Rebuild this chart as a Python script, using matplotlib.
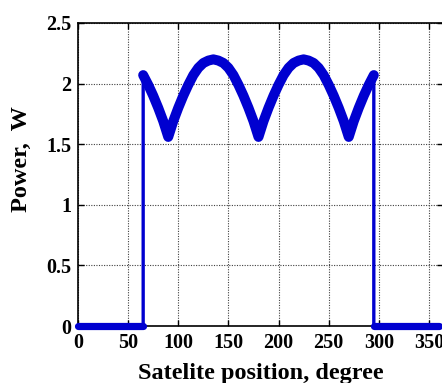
import matplotlib
matplotlib.use("Agg")
import matplotlib.pyplot as plt

# Satellite position (degrees) and generated power (W)
off_left_deg = [0, 5, 10, 15, 20, 25, 30, 35, 40, 45, 50, 55, 60, 65]
off_left_pw = [0.0] * len(off_left_deg)

on_deg = [65, 70, 75, 80, 85, 90, 95, 100, 105, 110, 115, 120, 125, 130, 135,
          140, 145, 150, 155, 160, 165, 170, 175, 180, 185, 190, 195, 200, 205,
          210, 215, 220, 225, 230, 235, 240, 245, 250, 255, 260, 265, 270, 275,
          280, 285, 290, 295]
on_pw = [2.07, 1.99, 1.90, 1.80, 1.69, 1.56, 1.69, 1.80, 1.90, 1.99, 2.07, 2.13,
         2.17, 2.19, 2.20, 2.19, 2.17, 2.13, 2.07, 1.99, 1.90, 1.80, 1.69, 1.56,
         1.69, 1.80, 1.90, 1.99, 2.07, 2.13, 2.17, 2.19, 2.20, 2.19, 2.17, 2.13,
         2.07, 1.99, 1.90, 1.80, 1.69, 1.56, 1.69, 1.80, 1.90, 1.99, 2.07]

off_right_deg = [295, 300, 305, 310, 315, 320, 325, 330, 335, 340, 345, 350, 355, 360]
off_right_pw = [0.0] * len(off_right_deg)

x_ticks = [0, 50, 100, 150, 200, 250, 300, 350]
y_ticks = [0, 0.5, 1, 1.5, 2, 2.5]
y_tick_labels = ["0", "0.5", "1", "1.5", "2", "2.5"]

plt.rcParams["font.family"] = ["Liberation Serif", "DejaVu Serif"]
plt.rcParams["font.weight"] = "bold"

W, H = 442, 383
fig = plt.figure(figsize=(W / 100, H / 100), dpi=100)
ax = fig.add_axes([78 / W, (H - 326) / H, 365 / W, 303 / H])

blue = "#0000d0"
all_deg = off_left_deg + on_deg + off_right_deg
all_pw = off_left_pw + on_pw + off_right_pw

# thin connecting line (including the vertical switch-on / switch-off edges)
ax.plot(all_deg, all_pw, color=blue, lw=2.4, solid_capstyle="butt", zorder=3)
# thick traces of the sampled points
for xs, ys in ((off_left_deg, off_left_pw), (off_right_deg, off_right_pw)):
    ax.plot(xs, ys, color=blue, lw=5.2, solid_capstyle="round", zorder=4,
            clip_on=False)
ax.plot(on_deg, on_pw, color=blue, lw=7.2, solid_capstyle="round",
        solid_joinstyle="round", zorder=4)

ax.set_xlim(0, 364)
ax.set_ylim(0, 2.5)
ax.set_xticks(x_ticks)
ax.set_yticks(y_ticks)
ax.set_yticklabels(y_tick_labels)
ax.grid(True, color="0.25", linestyle=(0, (1, 1.3)), linewidth=0.8)
ax.tick_params(direction="in", top=True, right=True, length=4, width=1,
               labelsize=14.5, pad=5)
for lbl in ax.get_xticklabels() + ax.get_yticklabels():
    lbl.set_fontweight("bold")
for s in ax.spines.values():
    s.set_linewidth(1.2)

ax.set_xlabel("Satelite position, degree", fontsize=17.5, fontweight="bold",
              labelpad=7)
ax.set_ylabel("Power,  W", fontsize=17.5, fontweight="bold")
ax.yaxis.set_label_coords(-0.125, 0.55)

fig.savefig("out.png", dpi=100)
